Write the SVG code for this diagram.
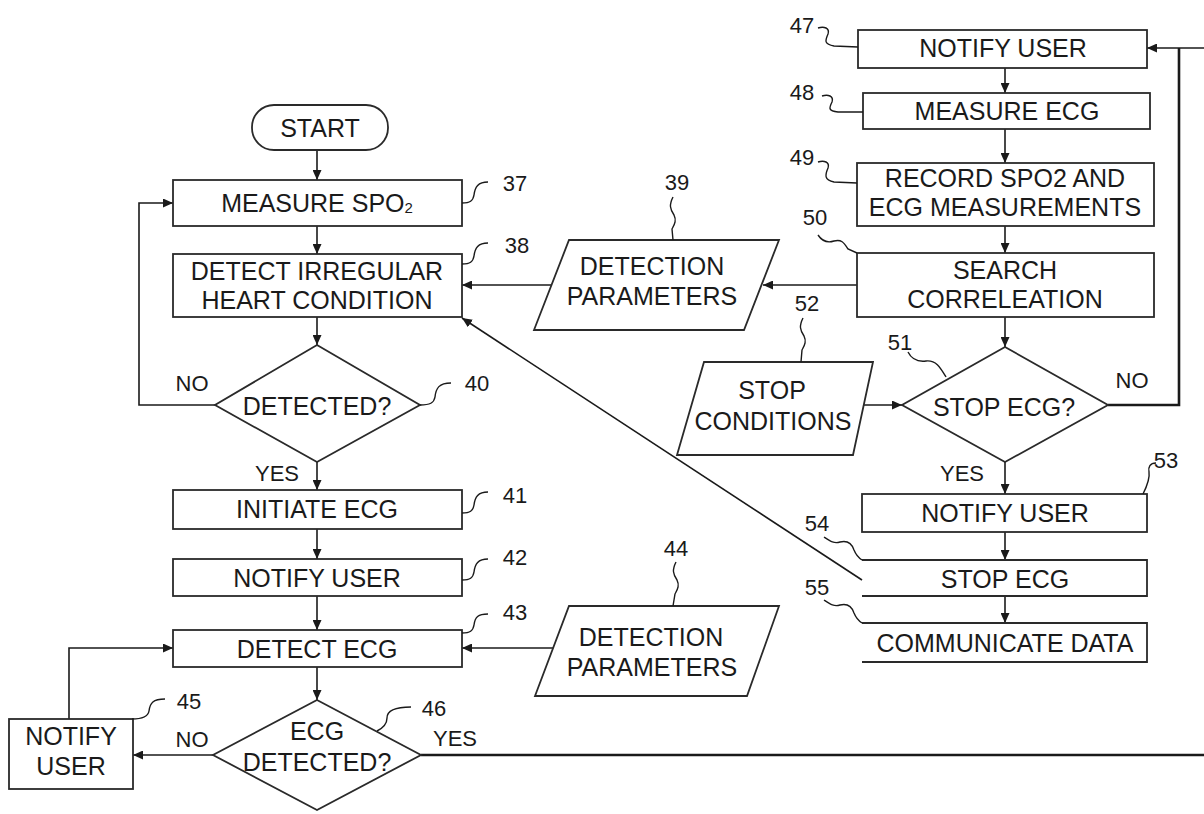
<svg xmlns="http://www.w3.org/2000/svg" width="1204" height="814" viewBox="0 0 1204 814">
<defs>
<marker id="ah" markerUnits="userSpaceOnUse" markerWidth="11" markerHeight="9" refX="10" refY="4.5" orient="auto">
<path d="M0,0 L10,4.5 L0,9 z" fill="#1a1a1a"/>
</marker>
<style>
.box{fill:#fff;stroke:#2a2a2a;stroke-width:1.8}
.open{fill:none;stroke:#2a2a2a;stroke-width:1.8}
.t{font-family:"Liberation Sans",Arial,sans-serif;font-size:25px;fill:#1a1a1a;text-anchor:middle;dominant-baseline:central}
.n{font-family:"Liberation Sans",Arial,sans-serif;font-size:22px;fill:#1a1a1a;text-anchor:middle;dominant-baseline:central}
.c{fill:none;stroke:#1a1a1a;stroke-width:1.6}
.ca{fill:none;stroke:#1a1a1a;stroke-width:1.6;marker-end:url(#ah)}
.thick{fill:none;stroke:#1a1a1a;stroke-width:2.6}
.lead{fill:none;stroke:#1a1a1a;stroke-width:1.4}
</style>
</defs>
<rect width="1204" height="814" fill="#fff"/>

<g id="connectors">
<path class="ca" d="M317,150 V180"/>
<path class="ca" d="M317,226 V254"/>
<path class="ca" d="M317,317 V345"/>
<path class="ca" d="M215,405 H139 V203 H173"/>
<path class="ca" d="M317,462 V490"/>
<path class="ca" d="M317,529 V559"/>
<path class="ca" d="M317,596 V630"/>
<path class="ca" d="M317,667 V700"/>
<path class="ca" d="M213,755 H133"/>
<path class="ca" d="M69,719 V648 H173"/>
<path class="thick" d="M421,755 H1204"/>
<path class="ca" d="M553,648 H462"/>
<path class="ca" d="M857,285 H763"/>
<path class="ca" d="M551,285 H462"/>
<path class="ca" d="M862,580 L462,318"/>
<path class="ca" d="M1005,68 V93"/>
<path class="ca" d="M1005,129 V163"/>
<path class="ca" d="M1005,226 V253"/>
<path class="ca" d="M1005,317 V347"/>
<path class="ca" d="M864,405 H902"/>
<path class="thick" d="M1108,405 H1179 V48"/>
<path class="ca" d="M1204,48 H1147"/>
<path class="ca" d="M1005,462 V494"/>
<path class="ca" d="M1005,532 V560"/>
<path class="ca" d="M1005,596 V623"/>
<text class="n" x="192" y="383">NO</text>
<text class="n" x="277" y="473">YES</text>
<text class="n" x="192" y="739">NO</text>
<text class="n" x="455" y="738">YES</text>
<text class="n" x="1132" y="380">NO</text>
<text class="n" x="962" y="473">YES</text>
</g>

<g id="start">
<rect class="box" x="252" y="105" width="136" height="45" rx="22"/>
<text class="t" x="320" y="128">START</text>
</g>
<g id="n37">
<rect class="box" x="173" y="180" width="289" height="46"/>
<text class="t" x="317" y="203">MEASURE SPO<tspan font-size="15" dy="4">2</tspan></text>
<path class="lead" d="M462,203 c8,0 11,-2 12,-8 c1,-8 4,-13 14,-13"/>
<text class="n" x="515" y="183">37</text>
</g>
<g id="n38">
<rect class="box" x="173" y="254" width="289" height="63"/>
<text class="t" x="317" y="271">DETECT IRREGULAR</text>
<text class="t" x="317" y="300">HEART CONDITION</text>
<path class="lead" d="M462,264 c8,0 11,-2 12,-8 c1,-8 4,-13 14,-13"/>
<text class="n" x="517" y="245">38</text>
</g>
<g id="n39">
<polygon class="box" points="569,240 779,240 744,330 534,330"/>
<text class="t" x="652" y="266">DETECTION</text>
<text class="t" x="652" y="296">PARAMETERS</text>
<path class="lead" d="M673,197 c-4,8 -3,12 1,18 c3,6 0,10 -2,14 l1,11"/>
<text class="n" x="677" y="182">39</text>
</g>
<g id="n40">
<polygon class="box" points="317,345 420,405 317,462 215,405"/>
<text class="t" x="317" y="406">DETECTED?</text>
<path class="lead" d="M420,405 c10,0 14,-2 15,-8 c1,-9 4,-14 16,-14"/>
<text class="n" x="477" y="383">40</text>
</g>
<g id="n41">
<rect class="box" x="173" y="490" width="289" height="39"/>
<text class="t" x="317" y="509">INITIATE ECG</text>
<path class="lead" d="M462,513 c8,0 11,-2 12,-8 c1,-8 4,-13 14,-13"/>
<text class="n" x="515" y="495">41</text>
</g>
<g id="n42">
<rect class="box" x="173" y="559" width="289" height="37"/>
<text class="t" x="317" y="578">NOTIFY USER</text>
<path class="lead" d="M462,580 c8,0 11,-2 12,-8 c1,-8 4,-13 14,-13"/>
<text class="n" x="515" y="557">42</text>
</g>
<g id="n43">
<rect class="box" x="173" y="630" width="289" height="37"/>
<text class="t" x="317" y="649">DETECT ECG</text>
<path class="lead" d="M462,633 c8,0 11,-2 12,-8 c1,-8 4,-11 14,-11"/>
<text class="n" x="515" y="612">43</text>
</g>
<g id="n44">
<polygon class="box" points="569,606 779,606 747,696 535,696"/>
<text class="t" x="651" y="637">DETECTION</text>
<text class="t" x="652" y="667">PARAMETERS</text>
<path class="lead" d="M676,562 c-4,8 -3,12 1,18 c3,6 0,10 -2,14 l-2,12"/>
<text class="n" x="676" y="548">44</text>
</g>
<g id="n45">
<rect class="box" x="9" y="719" width="124" height="70"/>
<text class="t" x="71" y="736">NOTIFY</text>
<text class="t" x="71" y="766">USER</text>
<path class="lead" d="M132,719 c10,0 16,-2 17,-8 c1,-8 4,-12 16,-12"/>
<text class="n" x="189" y="701">45</text>
</g>
<g id="n46">
<polygon class="box" points="317,700 421,755 317,810 213,755"/>
<text class="t" x="317" y="731">ECG</text>
<text class="t" x="317" y="762">DETECTED?</text>
<path class="lead" d="M377,731 c8,-4 10,-8 10,-13 c0,-7 8,-11 24,-11"/>
<text class="n" x="434" y="708">46</text>
</g>
<g id="n47">
<rect class="box" x="858" y="30" width="289" height="38"/>
<text class="t" x="1003" y="48">NOTIFY USER</text>
<path class="lead" d="M818,28 c6,-2 12,0 10,6 c-3,7 -4,10 6,12 l24,1"/>
<text class="n" x="802" y="25">47</text>
</g>
<g id="n48">
<rect class="box" x="863" y="93" width="287" height="36"/>
<text class="t" x="1007" y="111">MEASURE ECG</text>
<path class="lead" d="M822,96 c6,-2 12,0 10,6 c-3,6 -4,9 6,10 l25,0"/>
<text class="n" x="802" y="92">48</text>
</g>
<g id="n49">
<rect class="box" x="857" y="163" width="297" height="63"/>
<text class="t" x="1005" y="178">RECORD SPO2 AND</text>
<text class="t" x="1005" y="207">ECG MEASUREMENTS</text>
<path class="lead" d="M818,162 c6,-2 12,0 10,6 c-3,7 -4,12 6,14 l23,1"/>
<text class="n" x="802" y="157">49</text>
</g>
<g id="n50">
<rect class="box" x="857" y="253" width="297" height="64"/>
<text class="t" x="1005" y="270">SEARCH</text>
<text class="t" x="1005" y="299">CORRELEATION</text>
<path class="lead" d="M818,235 c4,6 10,8 16,6 c8,-2 10,2 14,8 l9,4"/>
<text class="n" x="815" y="217">50</text>
</g>
<g id="n51">
<polygon class="box" points="1005,347 1108,405 1005,462 902,405"/>
<text class="t" x="1004" y="407">STOP ECG?</text>
<path class="lead" d="M908,352 c4,8 10,10 18,9 c10,-1 14,6 20,16"/>
<text class="n" x="900" y="342">51</text>
</g>
<g id="n52">
<polygon class="box" points="704,362 873,362 853,455 677,455"/>
<text class="t" x="772" y="390">STOP</text>
<text class="t" x="773" y="421">CONDITIONS</text>
<path class="lead" d="M803,318 c-4,8 -3,12 1,18 c3,6 0,10 -2,14 l-1,12"/>
<text class="n" x="807" y="303">52</text>
</g>
<g id="n53">
<rect class="box" x="862" y="494" width="285" height="38"/>
<text class="t" x="1005" y="513">NOTIFY USER</text>
<path class="lead" d="M1156,463 c-6,0 -8,4 -7,9 c1,6 -1,12 -6,22"/>
<text class="n" x="1166" y="460">53</text>
</g>
<g id="n54">
<path class="open" d="M862,560 H1147 V596 H862"/>
<text class="t" x="1005" y="579">STOP ECG</text>
<path class="lead" d="M824,537 c6,4 10,7 16,5 c8,-2 12,2 14,8 c2,5 5,8 8,10"/>
<text class="n" x="817" y="523">54</text>
</g>
<g id="n55">
<path class="open" d="M862,623 H1147 V662 H862"/>
<text class="t" x="1005" y="643">COMMUNICATE DATA</text>
<path class="lead" d="M824,600 c6,4 10,7 16,5 c8,-2 12,2 14,8 c2,5 5,8 8,10"/>
<text class="n" x="817" y="587">55</text>
</g>
</svg>
